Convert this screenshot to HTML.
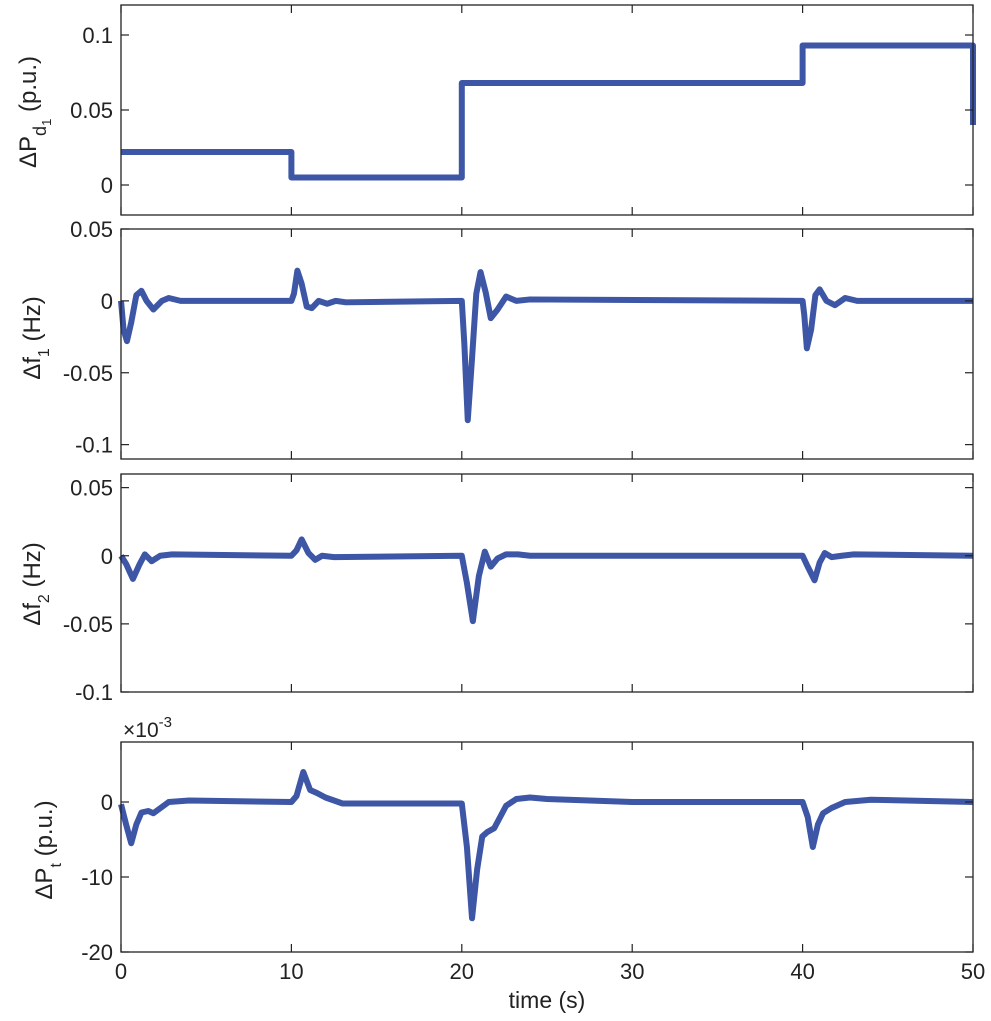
<!DOCTYPE html>
<html><head><meta charset="utf-8"><style>
body{margin:0;background:#fff;}
svg{display:block;font-family:"Liberation Sans",Arial,sans-serif;}
</style></head><body>
<svg id="chart" width="991" height="1021" xmlns="http://www.w3.org/2000/svg"></svg>
<script>
// ---- data ----
const pdT = [0, 10, 10, 20, 20, 40, 40, 50, 50];
const pdV = [0.022, 0.022, 0.005, 0.005, 0.068, 0.068, 0.093, 0.093, 0.04];
const f1T = [0,0.15,0.35,0.6,0.9,1.2,1.5,1.9,2.4,2.8,3.5,10,10.15,10.35,10.6,10.9,11.2,11.6,12.1,12.6,13.2,20,20.15,20.35,20.6,20.85,21.1,21.4,21.7,22.1,22.6,23.2,24,40,40.1,40.25,40.5,40.75,41,41.4,41.9,42.5,43.2,50];
const f1V = [0,-0.02,-0.028,-0.015,0.004,0.007,0.0,-0.006,0.0,0.002,0,0,0.005,0.021,0.012,-0.004,-0.005,0.0,-0.002,0.0,-0.001,0,-0.03,-0.083,-0.04,0.005,0.02,0.006,-0.012,-0.006,0.003,0.0,0.001,0,-0.01,-0.033,-0.02,0.004,0.008,0.0,-0.003,0.002,0,0];
const f2T = [0,0.3,0.7,1.1,1.4,1.8,2.3,3,10,10.3,10.6,11.0,11.4,11.8,12.5,20,20.3,20.65,21.0,21.35,21.7,22.1,22.6,23.3,24,40,40.3,40.7,41.0,41.3,41.7,42.3,43,50];
const f2V = [0,-0.006,-0.017,-0.006,0.001,-0.004,0.0,0.001,0,0.004,0.012,0.002,-0.003,0.0,-0.001,0,-0.02,-0.048,-0.015,0.003,-0.008,-0.002,0.001,0.001,0,0,-0.008,-0.018,-0.005,0.002,-0.001,0.0,0.001,0];
const ptT = [0,0.3,0.6,0.9,1.2,1.6,1.9,2.8,4,10,10.3,10.7,11.1,11.5,12,13,20,20.3,20.6,20.9,21.2,21.5,21.9,22.6,23.2,24,25,30,40,40.3,40.6,40.9,41.2,41.7,42.5,44,50];
const ptV = [-0.3,-3,-5.5,-3,-1.4,-1.2,-1.5,0,0.2,0,0.8,4,1.6,1.2,0.6,-0.2,-0.2,-6,-15.5,-9,-4.6,-4,-3.5,-0.5,0.4,0.6,0.4,0,0,-2,-6,-3,-1.5,-0.8,0,0.3,0];
const xTicks = [0,10,20,30,40,50];
// ---- layout ----
const NS="http://www.w3.org/2000/svg", svg=document.getElementById('chart');
const X0=121, X1=973;
const xs = t => X0 + (t/50)*(X1-X0);
function el(tag, attrs, parent){const e=document.createElementNS(NS,tag);for(const k in attrs)e.setAttribute(k,attrs[k]);(parent||svg).appendChild(e);return e;}
const panels=[
 {name:'pd',top:5,bot:215,ymin:-0.02,ymax:0.12,ticks:[0,0.05,0.1],labels:['0','0.05','0.1'],T:pdT,V:pdV},
 {name:'f1',top:229,bot:459,ymin:-0.11,ymax:0.05,ticks:[-0.1,-0.05,0,0.05],labels:['-0.1','-0.05','0','0.05'],T:f1T,V:f1V},
 {name:'f2',top:474,bot:692,ymin:-0.1,ymax:0.06,ticks:[-0.1,-0.05,0,0.05],labels:['-0.1','-0.05','0','0.05'],T:f2T,V:f2V},
 {name:'pt',top:742,bot:952,ymin:-20,ymax:8,ticks:[-20,-10,0],labels:['-20','-10','0'],T:ptT,V:ptV}
];
panels.forEach((p,pi)=>{
  const ys=v=>p.bot-(v-p.ymin)/(p.ymax-p.ymin)*(p.bot-p.top);
  const g=el('g',{});
  
  
  const pts=p.T.map((t,i)=>xs(t)+','+ys(p.V[i])).join(' ');
  const line=el('polyline',{points:pts,fill:'none',stroke:'#3d56a6','stroke-width':6,'stroke-linejoin':'round','stroke-linecap':'butt'},g);
  
  
  const box=el('rect',{x:X0,y:p.top,width:X1-X0,height:p.bot-p.top,fill:'none',stroke:'#222','stroke-width':1.3},g);
  
  
  p.ticks.forEach((v,i)=>{
    const y=ys(v);
    el('line',{x1:X0,x2:X0+8,y1:y,y2:y,stroke:'#222','stroke-width':1.2},g);
    el('line',{x1:X1,x2:X1-8,y1:y,y2:y,stroke:'#222','stroke-width':1.2},g);
    const tx=el('text',{x:X0-8,y:y+8,'text-anchor':'end','font-size':22,fill:'#222'},g);
    
    
    tx.textContent=p.labels[i];
  });
  xTicks.forEach(t=>{
    const x=xs(t);
    el('line',{x1:x,x2:x,y1:p.bot,y2:p.bot-8,stroke:'#222','stroke-width':1.2},g);
    el('line',{x1:x,x2:x,y1:p.top,y2:p.top+8,stroke:'#222','stroke-width':1.2},g);
    if(pi===3){
      const tx=el('text',{x:x,y:979,'text-anchor':'middle','font-size':22,fill:'#222'},g);
      
      
      tx.textContent=t;
    }
  });
});
</script>
<svg style="position:absolute;left:0;top:0" width="991" height="1021" xmlns="http://www.w3.org/2000/svg" font-family="Liberation Sans, Arial, sans-serif" fill="#222">
  <text transform="translate(36,112) rotate(-90)" text-anchor="middle" font-size="24">ΔP<tspan font-size="18" dy="10">d</tspan><tspan font-size="13" dy="5">1</tspan><tspan dy="-15"> (p.u.)</tspan></text>
  <text transform="translate(40,338) rotate(-90)" text-anchor="middle" font-size="24">Δf<tspan font-size="16" dy="9">1</tspan><tspan dy="-9"> (Hz)</tspan></text>
  <text transform="translate(40,584) rotate(-90)" text-anchor="middle" font-size="24">Δf<tspan font-size="16" dy="9">2</tspan><tspan dy="-9"> (Hz)</tspan></text>
  <text transform="translate(52,850) rotate(-90)" text-anchor="middle" font-size="24">ΔP<tspan font-size="16" dy="9">t</tspan><tspan dy="-9"> (p.u.)</tspan></text>
  <text x="123" y="737" font-size="21">×10<tspan font-size="15" dy="-10">-3</tspan></text>
  <text x="547" y="1008" text-anchor="middle" font-size="23">time (s)</text>
</svg>
</body></html>
